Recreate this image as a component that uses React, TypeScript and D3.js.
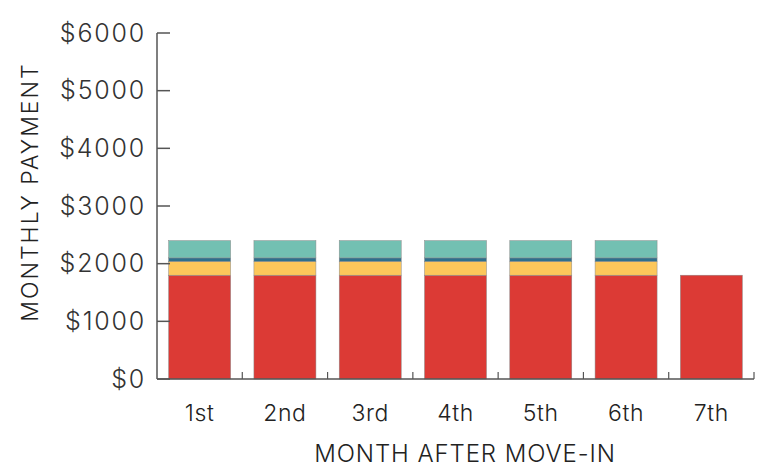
import * as d3 from "d3";
import { useEffect, useRef } from "react";

// months after move-in and the monthly payment parts
const months = ["1st", "2nd", "3rd", "4th", "5th", "6th", "7th"];
const rent = [1800, 1800, 1800, 1800, 1800, 1800, 1800];
const utilities = [240, 240, 240, 240, 240, 240, 0];
const insurance = [60, 60, 60, 60, 60, 60, 0];
const fees = [300, 300, 300, 300, 300, 300, 0];
const yTicks = [0, 1000, 2000, 3000, 4000, 5000, 6000];

const seriesKeys = ["rent", "utilities", "insurance", "fees"];
const seriesColors = ["#dc3a35", "#fcc75b", "#2e6f8c", "#73c0b2"];

const W = 766;
const H = 465;
const FONT = "Inter, Lato, sans-serif";

export default function App() {
  const ref = useRef<SVGSVGElement>(null);

  useEffect(() => {
    const svg = d3.select(ref.current);
    svg.selectAll("*").remove();

    const rows = months.map((m, i) => ({
      month: m,
      rent: rent[i],
      utilities: utilities[i],
      insurance: insurance[i],
      fees: fees[i],
    }));

    const x = d3.scaleBand().domain(months).range([157, 754]).paddingInner(0.273).paddingOuter(0.1365);
    const y = d3.scaleLinear().domain([0, 6000]).range([379, 33]);
    const color = d3.scaleOrdinal<string, string>().domain(seriesKeys).range(seriesColors);

    const stacked = d3.stack<any>().keys(seriesKeys)(rows);

    // bars
    svg.append("g")
      .selectAll("g")
      .data(stacked)
      .join("g")
      .attr("fill", (d) => color(d.key))
      .selectAll("rect")
      .data((d) => d.filter((p) => p[1] - p[0] > 0))
      .join("rect")
      .attr("x", (d) => x(d.data.month)!)
      .attr("y", (d) => y(d[1]))
      .attr("width", x.bandwidth())
      .attr("height", (d) => y(d[0]) - y(d[1]))
      .attr("stroke", "#8a8a8a")
      .attr("stroke-width", 0.5);

    const axisColor = "#555";

    // y axis: line plus inward ticks
    const gy = svg.append("g");
    gy.append("line")
      .attr("x1", 157).attr("x2", 157)
      .attr("y1", y(6000)).attr("y2", y(0))
      .attr("stroke", axisColor).attr("stroke-width", 1.5);
    gy.selectAll(".tick")
      .data(yTicks)
      .join("line")
      .attr("x1", 157).attr("x2", 170)
      .attr("y1", (d) => y(d)).attr("y2", (d) => y(d))
      .attr("stroke", axisColor).attr("stroke-width", 1.5);
    gy.selectAll("text")
      .data(yTicks)
      .join("text")
      .attr("x", 146)
      .attr("y", (d) => y(d))
      .attr("dy", "0.35em")
      .attr("text-anchor", "end")
      .attr("font-family", FONT)
      .attr("font-weight", 300)
      .attr("font-size", 25)
      .attr("letter-spacing", 1.8)
      .attr("fill", "#333")
      .text((d) => `$${d}`);

    // x axis: baseline plus upward ticks between months
    const gx = svg.append("g");
    gx.append("line")
      .attr("x1", 157).attr("x2", 754)
      .attr("y1", y(0)).attr("y2", y(0))
      .attr("stroke", axisColor).attr("stroke-width", 1.5);
    gx.selectAll(".tick")
      .data(months)
      .join("line")
      .attr("x1", (d) => x(d)! + x.step() - (x.step() - x.bandwidth()) / 2)
      .attr("x2", (d) => x(d)! + x.step() - (x.step() - x.bandwidth()) / 2)
      .attr("y1", y(0)).attr("y2", y(0) - 7)
      .attr("stroke", axisColor).attr("stroke-width", 1.2);
    gx.selectAll("text")
      .data(months)
      .join("text")
      .attr("x", (d) => x(d)! + x.bandwidth() / 2)
      .attr("y", 421)
      .attr("text-anchor", "middle")
      .attr("font-family", FONT)
      .attr("font-weight", 300)
      .attr("font-size", 23)
      .attr("letter-spacing", 0.6)
      .attr("fill", "#222")
      .text((d) => d);

    // axis titles
    svg.append("text")
      .attr("transform", "translate(38,192) rotate(-90)")
      .attr("text-anchor", "middle")
      .attr("font-family", FONT)
      .attr("font-weight", 300)
      .attr("font-size", 23)
      .attr("letter-spacing", 2)
      .attr("fill", "#222")
      .text("MONTHLY PAYMENT");

    svg.append("text")
      .attr("x", 465)
      .attr("y", 462)
      .attr("text-anchor", "middle")
      .attr("font-family", FONT)
      .attr("font-weight", 300)
      .attr("font-size", 24)
      .attr("letter-spacing", 0.9)
      .attr("fill", "#222")
      .text("MONTH AFTER MOVE-IN");
  }, []);

  return (
    <svg
      ref={ref}
      width={W}
      height={H}
      style={{ position: "absolute", left: 0, top: 0, background: "#fff" }}
    />
  );
}
